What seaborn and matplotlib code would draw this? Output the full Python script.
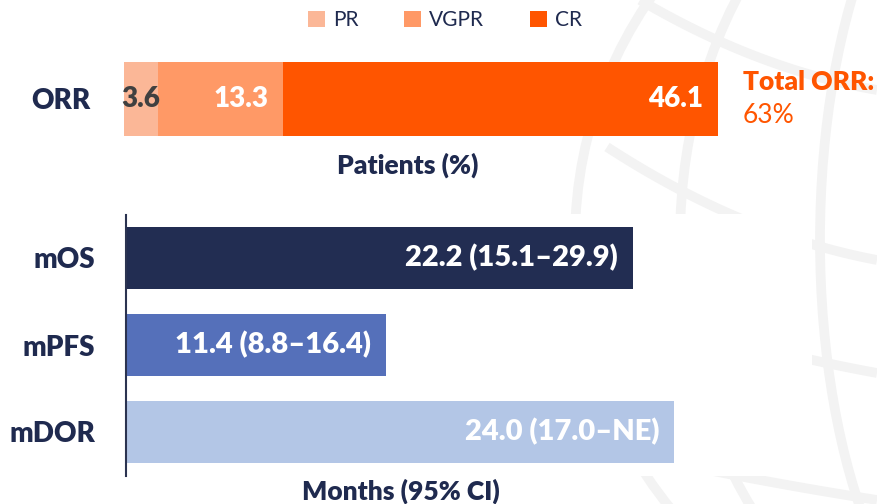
import numpy as np
import pandas as pd
import matplotlib
matplotlib.use("Agg")
import matplotlib.pyplot as plt
from matplotlib.patches import Patch, Ellipse
import seaborn as sns

# ---------------- data ----------------
orr_category = ["ORR"]
response_types = ["PR", "VGPR", "CR"]
response_values = [3.6, 13.3, 46.1]
total_orr_label = "63%"

endpoints = ["mOS", "mPFS", "mDOR"]
endpoint_months = [22.2, 11.4, 24.0]
endpoint_labels = ["22.2 (15.1\u201329.9)", "11.4 (8.8\u201316.4)", "24.0 (17.0\u2013NE)"]

# ---------------- style ----------------
sns.set_theme(style="white")
plt.rcParams["font.family"] = ["Lato", "DejaVu Sans"]

NAVY = "#1F2A4F"
resp_colors = ["#FBB797", "#FF9966", "#FF5500"]
end_colors = ["#222D52", "#5570BA", "#B3C6E6"]
ORANGE = "#FF5500"

W, H = 877, 504
fig = plt.figure(figsize=(W / 100, H / 100), dpi=100)
fig.patch.set_facecolor("white")


def rect(x0, y0, x1, y1):
    return [x0 / W, 1 - y1 / H, (x1 - x0) / W, (y1 - y0) / H]


# ---------------- faint globe watermark ----------------
bg = fig.add_axes([0, 0, 1, 1], zorder=-10)
bg.set_xlim(0, W)
bg.set_ylim(H, 0)
bg.axis("off")
gcol = "#F3F3F3"
for wdt in (850, 640, 360):
    bg.add_patch(Ellipse((1000, 240), wdt, 850, fill=False, ec=gcol, lw=7))
for pts in ([(640, 0), (740, 50), (877, 90)],
            [(607, 147), (700, 200), (877, 260)],
            [(585, 293), (707, 333), (877, 373)],
            [(600, 447), (760, 480), (877, 500)]):
    px, py = zip(*pts)
    c = np.polyfit(px, py, 2)
    xs = np.linspace(px[0], px[-1], 50)
    bg.plot(xs, np.polyval(c, xs), color=gcol, lw=7, solid_capstyle="butt")

# ---------------- top: stacked ORR bar ----------------
ax1 = fig.add_axes(rect(124, 62, 718, 136))
cum = np.cumsum(response_values)
# draw from the largest cumulative value down so that shorter segments sit on top
for i in range(len(response_types) - 1, -1, -1):
    df = pd.DataFrame({"cat": orr_category, "val": [cum[i]]})
    sns.barplot(data=df, x="val", y="cat", color=resp_colors[i], width=1.0,
                saturation=1, ax=ax1, orient="h", linewidth=0, edgecolor="none")
ax1.set_xlim(0, cum[-1])
ax1.set_ylim(0.5, -0.5)
for s in ax1.spines.values():
    s.set_visible(False)
ax1.set_xticks([])
ax1.tick_params(axis="y", length=0, pad=24)
ax1.set_yticklabels(orr_category, fontsize=20, fontweight="heavy", color=NAVY)
ax1.set_ylabel("")
ax1.set_xlabel("Patients (%)", fontsize=19, fontweight="heavy", color=NAVY)
ax1.xaxis.set_label_coords((408 - 124) / 594, -(165 - 136) / 74)
ax1.xaxis.label.set_va("center")

starts = np.concatenate([[0], cum[:-1]])
for i, v in enumerate(response_values):
    if i == 0:
        ax1.text(starts[i] + v / 2, 0, f"{v:.1f}", ha="center", va="center",
                 fontsize=20, fontweight="heavy", color="#404040")
    else:
        ax1.annotate(f"{v:.1f}", xy=(cum[i], 0), xytext=(-11, 0),
                     textcoords="offset points", ha="right", va="center",
                     fontsize=20, fontweight="heavy", color="white")

ax1.annotate("Total ORR:", xy=(cum[-1], 0), xytext=(18, 12), textcoords="offset points",
             ha="left", va="center", fontsize=19, fontweight="heavy", color=ORANGE,
             annotation_clip=False)
ax1.annotate(total_orr_label, xy=(cum[-1], 0), xytext=(18, -12), textcoords="offset points",
             ha="left", va="center", fontsize=19, color=ORANGE, annotation_clip=False)

handles = [Patch(facecolor=c, edgecolor="none", label=l) for c, l in zip(resp_colors, response_types)]
fig.legend(handles=handles, loc="center", bbox_to_anchor=(445 / W, 1 - 20 / H), ncol=3,
           frameon=False, fontsize=15, handlelength=0.8, handleheight=0.8,
           handletextpad=0.4, columnspacing=2.2, labelcolor=NAVY)

# ---------------- bottom: endpoints ----------------
ax2 = fig.add_axes(rect(126, 214.5, 126 + 685.5, 475.5))
df2 = pd.DataFrame({"endpoint": endpoints, "months": endpoint_months})
sns.barplot(data=df2, x="months", y="endpoint", hue="endpoint", palette=end_colors,
            width=0.713, saturation=1, legend=False, ax=ax2, orient="h",
            linewidth=0, edgecolor="none")
ax2.set_xlim(0, 30)
ax2.set_ylim(2.5, -0.5)
for k in ("top", "right", "bottom"):
    ax2.spines[k].set_visible(False)
ax2.spines["left"].set_color("#2B3350")
ax2.spines["left"].set_linewidth(1.5)
ax2.set_xticks([])
ax2.tick_params(axis="y", length=0, pad=22)
ax2.set_yticks(range(len(endpoints)))
ax2.set_yticklabels(endpoints, fontsize=20, fontweight="heavy", color=NAVY)
ax2.set_ylabel("")
ax2.set_xlabel("Months (95% CI)", fontsize=19, fontweight="heavy", color=NAVY)
ax2.xaxis.set_label_coords((401 - 126) / 685.5, -(491 - 475.5) / 261)
ax2.xaxis.label.set_va("center")
for i, (v, lab) in enumerate(zip(endpoint_months, endpoint_labels)):
    ax2.annotate(lab, xy=(v, i), xytext=(-11, 0), textcoords="offset points",
                 ha="right", va="center", fontsize=21, fontweight="heavy", color="white")

fig.savefig("out.png", dpi=100, facecolor="white")
